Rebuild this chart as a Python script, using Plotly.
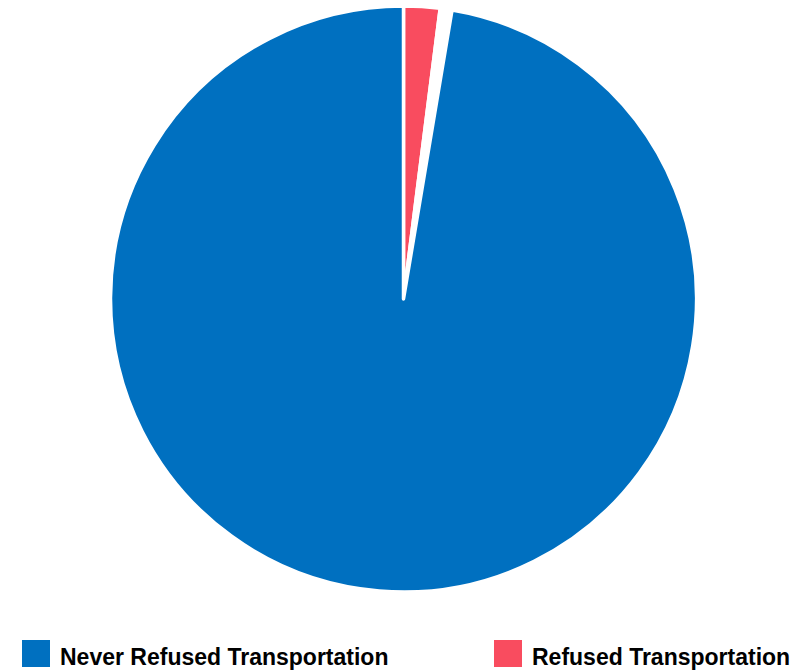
import plotly.graph_objects as go

# Survey shares (percent); the small blank slice is the unanswered remainder
labels = ["Refused Transportation", "No Response", "Never Refused Transportation"]
values = [2.0, 0.65, 97.35]
colors = ["#F94C5F", "#FFFFFF", "#0070C0"]

legend_labels = ["Never Refused Transportation", "Refused Transportation"]
legend_colors = ["#0070C0", "#F94C5F"]

W, H = 812, 671

fig = go.Figure(
    go.Pie(
        labels=labels,
        values=values,
        sort=False,
        direction="clockwise",
        rotation=0,
        marker=dict(colors=colors, line=dict(color="#FFFFFF", width=3.5)),
        textinfo="none",
        hoverinfo="label+percent",
        showlegend=False,
        domain=dict(x=[110.5 / W, 696.5 / W], y=[79 / H, 665 / H]),
    )
)

# Legend row along the bottom: colour square plus bold label
legend_x = [22, 494]
shapes = []
annotations = []
for x0, text, col in zip(legend_x, legend_labels, legend_colors):
    shapes.append(
        dict(
            type="rect", xref="paper", yref="paper",
            x0=x0 / W, x1=(x0 + 28) / W,
            y0=(H - 667) / H, y1=(H - 640) / H,
            fillcolor=col, line=dict(width=0),
        )
    )
    annotations.append(
        dict(
            text=f"<b>{text}</b>", xref="paper", yref="paper",
            x=(x0 + 36) / W, y=(H - 657) / H,
            xanchor="left", yanchor="middle", showarrow=False,
            font=dict(family="Liberation Sans Narrow, Liberation Sans, Arial", size=23, color="#000000"),
        )
    )

fig.update_layout(
    width=W, height=H,
    margin=dict(l=0, r=0, t=0, b=0),
    paper_bgcolor="#FFFFFF",
    plot_bgcolor="#FFFFFF",
    shapes=shapes,
    annotations=annotations,
)

fig.write_html("out.html")
